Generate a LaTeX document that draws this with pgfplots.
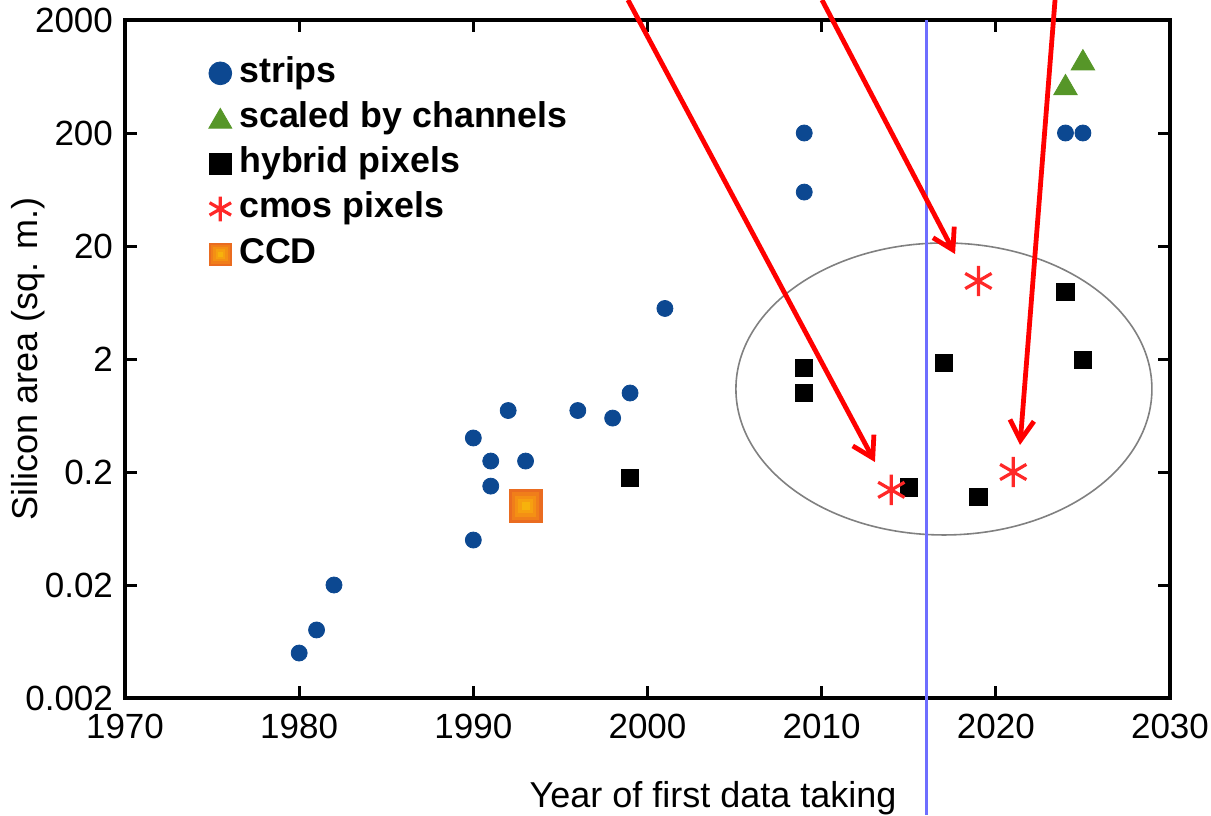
\documentclass[border=0pt]{standalone}
\usepackage{fontspec}
\setmainfont{Liberation Sans}
\usepackage{pgfplots}
\pgfplotsset{compat=1.18}
\usetikzlibrary{arrows.meta}
\definecolor{stripblue}{RGB}{12,72,145}
\definecolor{chgreen}{RGB}{86,150,40}
\definecolor{cmosred}{RGB}{255,40,40}
\definecolor{ccdorange}{RGB}{234,108,32}
\definecolor{ccdm1}{RGB}{240,126,26}
\definecolor{ccdmid}{RGB}{244,144,20}
\definecolor{ccdm2}{RGB}{246,160,16}
\definecolor{ccdin}{RGB}{247,178,12}
\definecolor{lineblue}{RGB}{110,110,255}
\pgfplotsset{
  legcirc/.style={legend image code/.code={\draw[##1, mark size=5.7pt] plot coordinates {(0pt,0pt)};}},
  legtri/.style={legend image code/.code={\draw[##1, mark size=6.6pt] plot coordinates {(0pt,-1.5pt)};}},
  legsq/.style={legend image code/.code={\draw[##1, mark size=5.3pt] plot coordinates {(0pt,0pt)};}},
  legast/.style={legend image code/.code={\draw[##1, mark size=6.2pt] plot coordinates {(0pt,0pt)};}},
  legccd/.style={legend image code/.code={
   \fill[ccdorange] (-5.5pt,-5.5pt) rectangle (5.5pt,5.5pt);
   \fill[ccdm1] (-4.4pt,-4.4pt) rectangle (4.4pt,4.4pt);
   \fill[ccdmid] (-3.3pt,-3.3pt) rectangle (3.3pt,3.3pt);
   \fill[ccdm2] (-2.2pt,-2.2pt) rectangle (2.2pt,2.2pt);
   \fill[ccdin] (-1.1pt,-1.1pt) rectangle (1.1pt,1.1pt);}},
}
\begin{document}
\fontsize{17.5}{21}\selectfont
\begin{tikzpicture}
\begin{axis}[
  at={(0,0)}, anchor=south west,
  scale only axis, width=522.5pt, height=339pt,
  xmin=1970, xmax=2030,
  ymode=log, ymin=0.002, ymax=2000,
  xtick={1970,1980,1990,2000,2010,2020,2030},
  xticklabels={1970,1980,1990,2000,2010,2020,2030},
  ytick={0.002,0.02,0.2,2,20,200,2000},
  yticklabels={0.002,0.02,0.2,2,20,200,2000},
  yminorticks=false, xminorticks=false,
  tick align=inside,
  major tick length=6pt,
  every tick/.style={black, line width=1.5pt},
  axis line style={line width=1.6pt},
  /pgf/number format/assume math mode=true,
  tick label style={font=\fontsize{17.5}{21}\selectfont},
  xticklabel style={yshift=-2pt},
  label style={font=\fontsize{18}{21}\selectfont},
  xlabel={Year of first data taking},
  ylabel={Silicon area (sq. m.)},
  xlabel style={at={(axis description cs:0.5627,-0.1622)}, anchor=base},
  ylabel style={at={(axis description cs:-0.0928,0.5)}, anchor=center},
  clip=false,
  legend cell align=left,
  legend style={draw=none, fill=none, inner sep=0pt,
    at={(axis description cs:0.0799,0.947)}, anchor=north west,
    font=\bfseries\fontsize{17.9}{21}\selectfont,
    nodes={inner xsep=0pt, inner ysep=0pt, text height=13pt, text depth=4pt},
    row sep=5.6pt,
    /tikz/every odd column/.style={column sep=3.75pt}},
]
\addplot[only marks, mark=*, mark size=4pt, color=stripblue, legcirc]
coordinates {
(1980,0.005) (1981,0.008) (1982,0.02) (1990,0.05) (1990,0.4) (1991,0.25)
(1991,0.15) (1992,0.7) (1993,0.25) (1996,0.7) (1998,0.6) (1999,1.0)
(2001,5.6) (2009,60) (2009,200) (2024,200) (2025,200)};
\addlegendentry{strips}
\addplot[only marks, mark=triangle*, mark size=6.8pt, color=chgreen, legtri]
coordinates {(2024,500) (2025,830)};
\addlegendentry{scaled by channels}
\addplot[only marks, mark=square*, mark size=4.3pt, color=black, legsq]
coordinates {(1999,0.177) (2009,1.67) (2009,1.0) (2015,0.146) (2017,1.85)
(2019,0.12) (2024,7.9) (2025,1.96)};
\addlegendentry{hybrid pixels}
\addplot[only marks, mark=asterisk, mark size=7.6pt, color=cmosred, line width=1.6pt, legast]
coordinates {(2014,0.139) (2019,9.8) (2021,0.2)};
\addlegendentry{cmos pixels}
\addplot[only marks, mark=square*, mark size=8.3pt, color=ccdorange, legccd]
coordinates {(1993,0.1)};
\addlegendentry{CCD}
\addplot[forget plot, only marks, mark=square*, mark size=6.6pt, color=ccdm1]
coordinates {(1993,0.1)};
\addplot[forget plot, only marks, mark=square*, mark size=5pt, color=ccdmid]
coordinates {(1993,0.1)};
\addplot[forget plot, only marks, mark=square*, mark size=3.4pt, color=ccdm2]
coordinates {(1993,0.1)};
\addplot[forget plot, only marks, mark=square*, mark size=1.8pt, color=ccdin]
coordinates {(1993,0.1)};
\draw[gray, line width=0.8pt] (axis cs:2017.02,1.086) ellipse [x radius=104pt, y radius=73pt];
\draw[lineblue, line width=1.4pt] (axis cs:2016.03,2000) -- (axis cs:2016.03,0.000184);
\draw[red, line width=2.4pt, -{Straight Barb[length=10pt,width=12pt]}] (axis cs:1998.88,3007) -- (axis cs:2013.06,0.245);
\draw[red, line width=2.4pt, -{Straight Barb[length=10pt,width=12pt]}] (axis cs:2010.02,3007) -- (axis cs:2017.66,16.98);
\draw[red, line width=2.4pt, -{Straight Barb[length=10pt,width=12pt]}] (axis cs:2023.40,3007) -- (axis cs:2021.39,0.347);
\end{axis}
\pgfresetboundingbox
\path[use as bounding box] (-62.5pt,-58.5pt) rectangle (543pt,349pt);
\end{tikzpicture}
\end{document}
